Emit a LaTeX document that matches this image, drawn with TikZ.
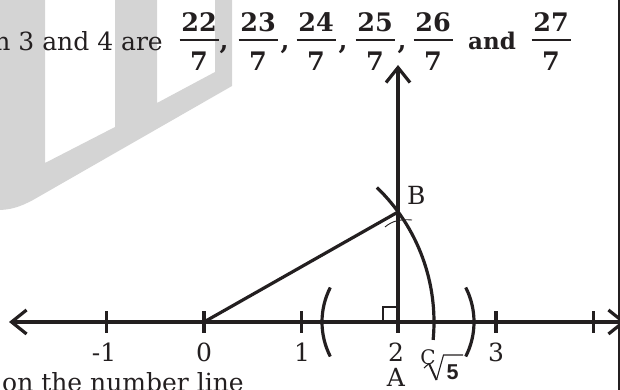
\documentclass[tikz,border=0pt]{standalone}
\usepackage{fontspec}
\setmainfont{DejaVu Serif}
\newfontfamily\sansbold{Liberation Sans}
\usetikzlibrary{arrows.meta}
\definecolor{wm}{RGB}{212,212,212}
\definecolor{ink}{RGB}{35,31,32}
\begin{document}
\begin{tikzpicture}[x=1pt,y=1pt,
  axis/.style={line width=3.2pt, draw=ink},
  lbl/.style={font=\fontsize{25}{28}\selectfont, inner sep=0pt, anchor=base, text=ink},
  frac/.style={font=\fontsize{25.5}{28}\selectfont\bfseries, inner sep=0pt, anchor=base, text=ink},
  barbtip/.tip={Straight Barb[length=15pt,width=24pt]},
]
\useasboundingbox (0,0) rectangle (620,390);
% watermark
\fill[wm, even odd rule] (-2,392) -- (232,392) -- (232,304) -- (33,190) .. controls (20,183) and (10,180) .. (-2,180) -- cycle
  (45,392) -- (115,392) -- (115,263) -- (45,227) -- cycle
  (157,392) -- (215,392) -- (215,318) -- (157,287) -- cycle;
% key points
\coordinate (L) at (9,68);
\coordinate (R) at (626,68);
\coordinate (O) at (204,68);
\coordinate (A) at (398,68);
\coordinate (T) at (398,325);
\coordinate (B) at (398,178);
\coordinate (K) at (247,68);
% number line
\draw[axis, barbtip-barbtip] (L) -- (R);
\foreach \x in {106.7,204,301.3,398,496,593.2} \draw[axis] (\x,57) -- (\x,79);
\draw[axis, -barbtip] (A) -- (T);
\draw[axis] (O) -- (B);
\draw[axis] ([shift={(46:187)}]K) arc[start angle=46, end angle=-5.5, radius=187];
\draw[axis] ([shift={(153:76)}]A) arc[start angle=153, end angle=207, radius=76];
\draw[axis] ([shift={(-27:76)}]A) arc[start angle=-27, end angle=27, radius=76];
\draw[line width=2.2pt, draw=ink] (398,83) -- (383,83) -- (383,68);
\draw[line width=0.9pt, draw=ink] (385,163) .. controls (392,169) and (400,171) .. (412,170);
% labels
\node[lbl] (m1) at (104,28) {-1};
\node[lbl] (l0) at (204,28) {0};
\node[lbl] (l1) at (302,28) {1};
\node[lbl] (l2) at (396,28) {2};
\node[lbl] (l3) at (496,28) {3};
\node[lbl] (la) at (396,3) {A};
\node[lbl, font=\fontsize{20}{24}\selectfont] (lc) at (428,25) {C};
\node[lbl, anchor=base west] (lb) at (407,185) {B};
% sqrt 5
\draw[line width=1.1pt, draw=ink, line join=round] (424,22) -- (429,26.5);
\draw[line width=2pt, draw=ink] (429,26.5) -- (436.5,10);
\draw[line width=1.1pt, draw=ink] (436.5,10) -- (443.5,35) -- (463,35);
\node[inner sep=0pt, anchor=base, text=ink, font=\sansbold\fontsize{21.5}{24}\selectfont\bfseries] (five) at (452.5,10) {5};
% border
\draw[line width=1.5pt, draw=ink] (619,0) -- (619,390);
% top text
\node[lbl, anchor=base east] (top) at (163,339) {n 3 and 4 are};
\foreach \cx/\n in {199/22, 258/23, 316/24, 375/25, 433/26, 551/27} {
  \node[frac] (n\n) at (\cx,358) {\n};
  \node[frac] (d\n) at (\cx,319) {7};
  \draw[line width=1.5pt, draw=ink] (\cx-19.5,350) -- (\cx+19.5,350);
}
\foreach \cx in {224,285,343,402} \node[frac] at (\cx,340) {,};
\node[frac, font=\fontsize{23}{26}\selectfont\bfseries, anchor=base west] (and) at (468,340) {and};
% bottom text
\node[lbl, anchor=base west] (bot) at (2,-2) {on the number line};
\end{tikzpicture}
\end{document}
